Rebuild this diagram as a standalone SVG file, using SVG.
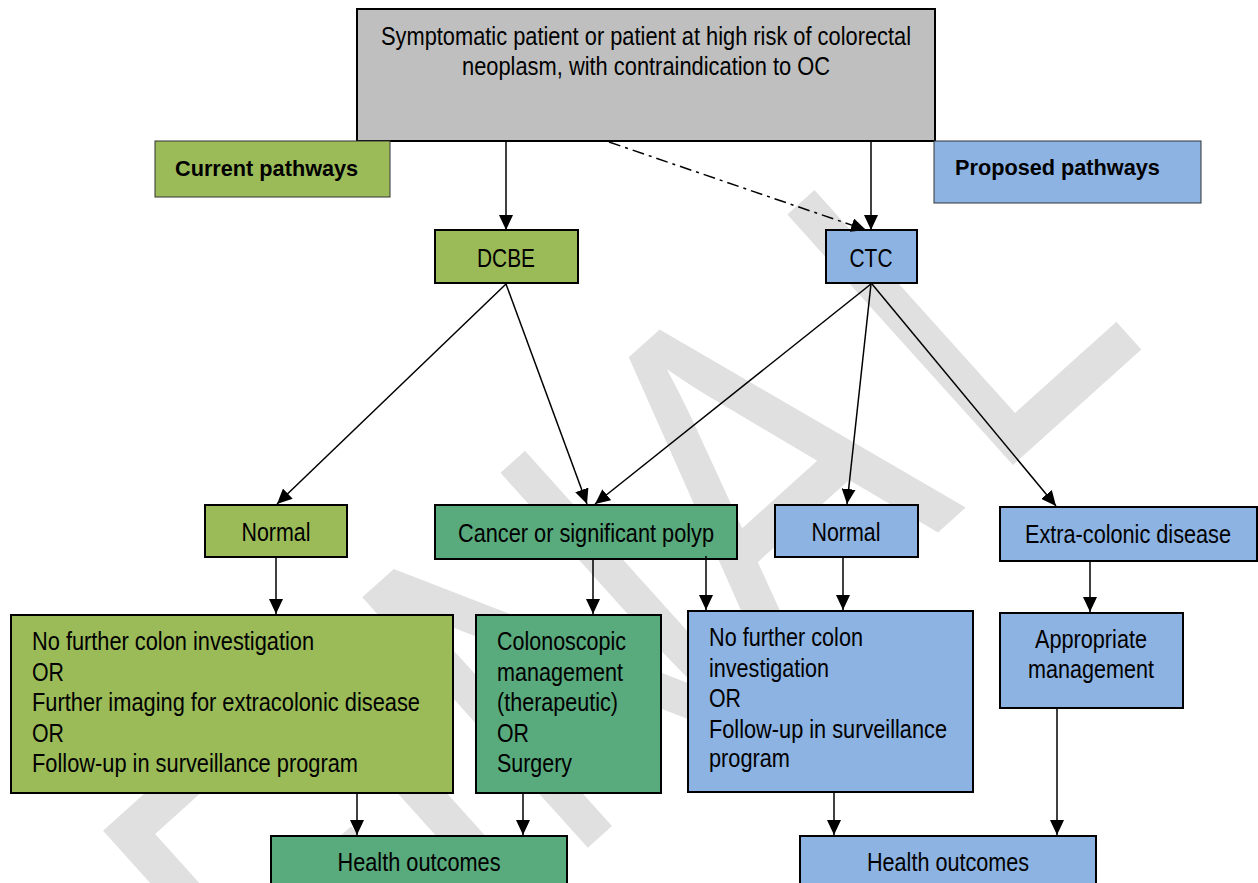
<svg xmlns="http://www.w3.org/2000/svg" width="1258" height="883" viewBox="0 0 1258 883">
<style>
.t{font-family:"Liberation Sans Narrow","Liberation Sans",Arial,sans-serif;font-size:26px;fill:#000}
.c{text-anchor:middle}
.b{font-family:"Liberation Sans",Arial,sans-serif;font-size:21.7px;font-weight:bold;fill:#000}
.box{stroke:#000;stroke-width:2}
.thin{stroke:#333;stroke-width:1}
.g1{fill:#9bbb59}
.g2{fill:#59aa7d}
.bl{fill:#8db3e2}
.gr{fill:#bfbfbf}
.ln{stroke:#000;stroke-width:1.5;fill:none;marker-end:url(#ah)}
.wm{font-family:"Liberation Sans",Arial,sans-serif;font-size:490px;fill:#e0e0e0}
</style>
<defs>
<marker id="ah" markerUnits="userSpaceOnUse" markerWidth="15" markerHeight="14" refX="15" refY="7" orient="auto" viewBox="0 0 15 14">
<path d="M0,0 L15,7 L0,14 z" fill="#000"/>
</marker>
</defs>
<rect width="1258" height="883" fill="#fff"/>
<g id="watermark">
<text class="wm" transform="translate(772,682) rotate(-42) scale(0.8,1)" x="-786 -486 -350 0 365" y="0">FINAL</text>
</g>
<g id="start">
<rect class="box gr" x="357" y="9" width="578" height="132"/>
<text class="t c" x="646" y="45" textLength="530" lengthAdjust="spacingAndGlyphs">Symptomatic patient or patient at high risk of colorectal</text>
<text class="t c" x="646" y="75" textLength="368" lengthAdjust="spacingAndGlyphs">neoplasm, with contraindication to OC</text>
</g>
<g id="current">
<rect class="thin g1" x="155" y="141" width="235" height="56"/>
<text class="b" x="175" y="176">Current pathways</text>
</g>
<g id="proposed">
<rect class="thin bl" x="934" y="141" width="267" height="62"/>
<text class="b" x="955" y="175">Proposed pathways</text>
</g>
<g id="dcbe">
<rect class="box g1" x="435" y="230" width="143" height="53"/>
<text class="t c" x="506" y="267" textLength="58" lengthAdjust="spacingAndGlyphs">DCBE</text>
</g>
<g id="ctc">
<rect class="box bl" x="826" y="230" width="91" height="53"/>
<text class="t c" x="871" y="267" textLength="43" lengthAdjust="spacingAndGlyphs">CTC</text>
</g>
<g id="normal-current">
<rect class="box g1" x="205" y="505" width="142" height="52"/>
<text class="t c" x="276" y="541" textLength="69" lengthAdjust="spacingAndGlyphs">Normal</text>
</g>
<g id="cancer">
<rect class="box g2" x="435" y="505" width="302" height="54"/>
<text class="t c" x="586" y="542" textLength="256" lengthAdjust="spacingAndGlyphs">Cancer or significant polyp</text>
</g>
<g id="normal-proposed">
<rect class="box bl" x="775" y="505" width="143" height="52"/>
<text class="t c" x="846" y="541" textLength="69" lengthAdjust="spacingAndGlyphs">Normal</text>
</g>
<g id="extracolonic">
<rect class="box bl" x="1000" y="507" width="257" height="54"/>
<text class="t c" x="1128" y="543" textLength="206" lengthAdjust="spacingAndGlyphs">Extra-colonic disease</text>
</g>
<g id="outcome-current-normal">
<rect class="box g1" x="11" y="615" width="442" height="178"/>
<text class="t" x="32" y="650" textLength="282" lengthAdjust="spacingAndGlyphs">No further colon investigation</text>
<text class="t" x="32" y="681" textLength="32" lengthAdjust="spacingAndGlyphs">OR</text>
<text class="t" x="32" y="711" textLength="388" lengthAdjust="spacingAndGlyphs">Further imaging for extracolonic disease</text>
<text class="t" x="32" y="742" textLength="32" lengthAdjust="spacingAndGlyphs">OR</text>
<text class="t" x="32" y="772" textLength="326" lengthAdjust="spacingAndGlyphs">Follow-up in surveillance program</text>
</g>
<g id="colonoscopic">
<rect class="box g2" x="476" y="615" width="185" height="178"/>
<text class="t" x="497" y="650" textLength="129" lengthAdjust="spacingAndGlyphs">Colonoscopic</text>
<text class="t" x="497" y="681" textLength="126" lengthAdjust="spacingAndGlyphs">management</text>
<text class="t" x="497" y="711" textLength="121" lengthAdjust="spacingAndGlyphs">(therapeutic)</text>
<text class="t" x="497" y="742" textLength="32" lengthAdjust="spacingAndGlyphs">OR</text>
<text class="t" x="497" y="772" textLength="75" lengthAdjust="spacingAndGlyphs">Surgery</text>
</g>
<g id="outcome-proposed-normal">
<rect class="box bl" x="688" y="611" width="285" height="181"/>
<text class="t" x="709" y="646" textLength="154" lengthAdjust="spacingAndGlyphs">No further colon</text>
<text class="t" x="709" y="677" textLength="120" lengthAdjust="spacingAndGlyphs">investigation</text>
<text class="t" x="709" y="707" textLength="32" lengthAdjust="spacingAndGlyphs">OR</text>
<text class="t" x="709" y="738" textLength="238" lengthAdjust="spacingAndGlyphs">Follow-up in surveillance</text>
<text class="t" x="709" y="767" textLength="81" lengthAdjust="spacingAndGlyphs">program</text>
</g>
<g id="appropriate">
<rect class="box bl" x="1000" y="613" width="183" height="95"/>
<text class="t c" x="1091" y="648" textLength="112" lengthAdjust="spacingAndGlyphs">Appropriate</text>
<text class="t c" x="1091" y="678" textLength="126" lengthAdjust="spacingAndGlyphs">management</text>
</g>
<g id="health-current">
<rect class="box g2" x="271" y="836" width="296" height="60"/>
<text class="t c" x="419" y="871" textLength="163" lengthAdjust="spacingAndGlyphs">Health outcomes</text>
</g>
<g id="health-proposed">
<rect class="box bl" x="800" y="836" width="296" height="60"/>
<text class="t c" x="948" y="871" textLength="162" lengthAdjust="spacingAndGlyphs">Health outcomes</text>
</g>
<g id="connectors">
<line class="ln" x1="506" y1="142" x2="506" y2="230"/>
<line class="ln" x1="871" y1="142" x2="871" y2="230"/>
<line class="ln" x1="609" y1="142" x2="866" y2="230" stroke-dasharray="12 5 3 5"/>
<line class="ln" x1="506" y1="284" x2="277" y2="504"/>
<line class="ln" x1="506" y1="284" x2="587" y2="504"/>
<line class="ln" x1="871" y1="284" x2="595" y2="504"/>
<line class="ln" x1="871" y1="284" x2="847" y2="504"/>
<line class="ln" x1="872" y1="284" x2="1056" y2="506"/>
<line class="ln" x1="276" y1="558" x2="276" y2="614"/>
<line class="ln" x1="593" y1="560" x2="593" y2="614"/>
<line class="ln" x1="706" y1="556" x2="706" y2="610"/>
<line class="ln" x1="843" y1="558" x2="843" y2="610"/>
<line class="ln" x1="1090" y1="562" x2="1090" y2="612"/>
<line class="ln" x1="357" y1="794" x2="357" y2="835"/>
<line class="ln" x1="523" y1="794" x2="523" y2="835"/>
<line class="ln" x1="834" y1="793" x2="834" y2="835"/>
<line class="ln" x1="1057" y1="709" x2="1057" y2="835"/>
</g>
</svg>
